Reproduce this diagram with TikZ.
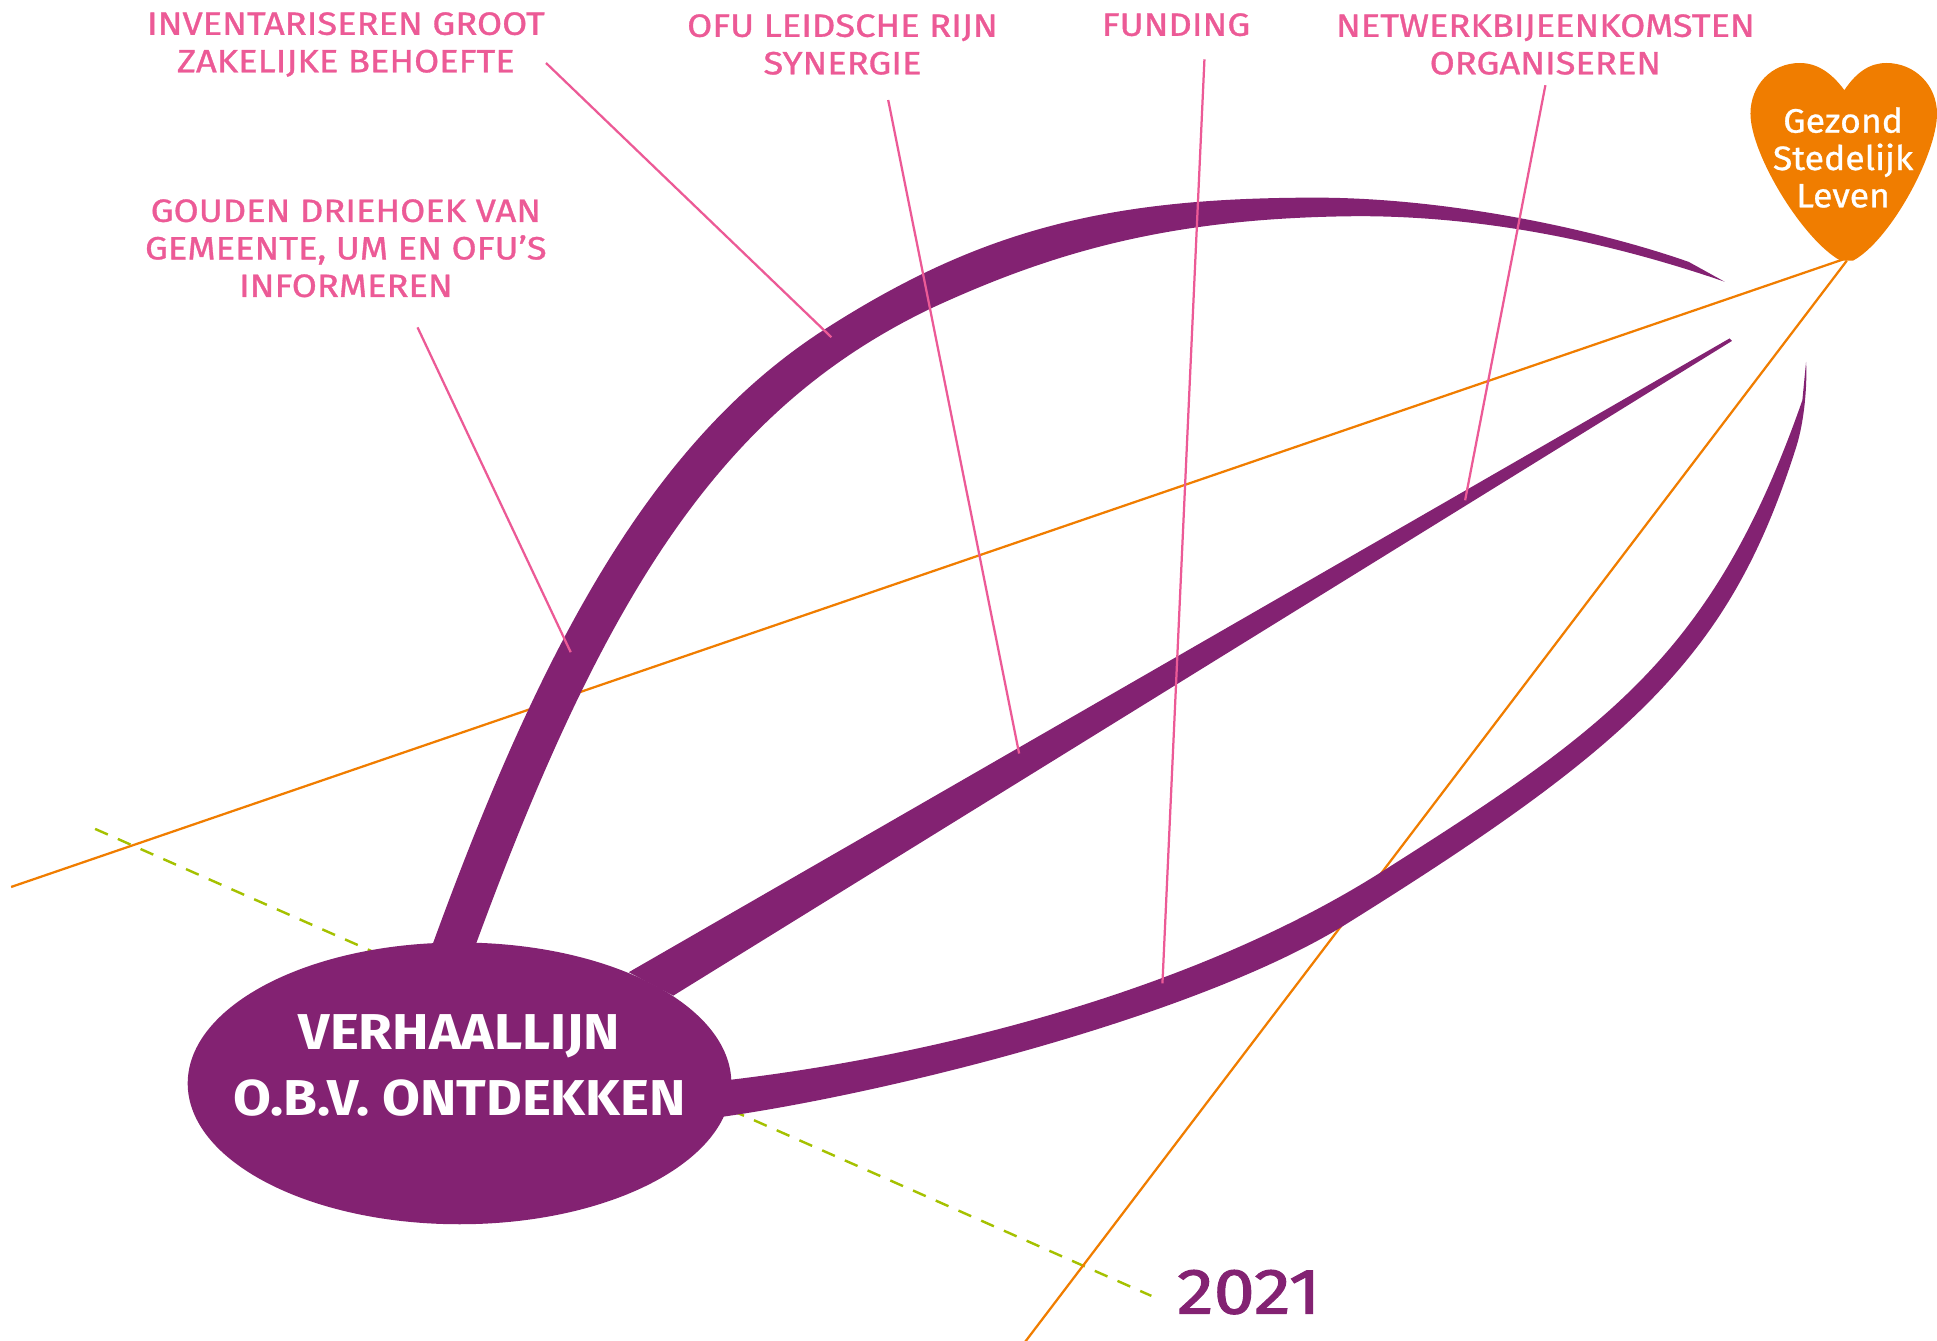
\documentclass[tikz,border=0pt]{standalone}
\usepackage{fontspec}
\setmainfont{Fira Sans}
\newfontfamily\rozefont[FakeStretch=1.13,FakeBold=1]{Fira Sans}
\newfontfamily\titelfont[FakeStretch=1.09]{Fira Sans}
\newfontfamily\hartfont[FakeStretch=1.05,FakeBold=0.8]{Fira Sans}
\newfontfamily\jaarfont[FakeStretch=1.15,FakeBold=1.6]{Fira Sans}
\usetikzlibrary{shapes.geometric}
\definecolor{verhaalpaars}{HTML}{832272}
\definecolor{verhaalroze}{HTML}{EC5A96}
\definecolor{verhaaloranje}{HTML}{F07D00}
\definecolor{verhaalgroen}{HTML}{A5C100}
\tikzset{
  roze/.style={text=verhaalroze,align=center,font=\rozefont\fontsize{18.5}{21.6}\selectfont},
  rozelijn/.style={draw=verhaalroze,line width=1.3pt},
  oranjelijn/.style={draw=verhaaloranje,line width=1.3pt},
  groenlijn/.style={draw=verhaalgroen,line width=1.4pt,dash pattern=on 8pt off 6.3pt},
}
\begin{document}
\begin{tikzpicture}[x=0.025cm,y=-0.025cm]
\useasboundingbox (0,0) rectangle (1568,1085.5);

\coordinate (groen1) at (77,671);
\coordinate (groen2) at (932,1049);
\coordinate (oranje1) at (9,718);
\coordinate (oranje2) at (830,1086);
\coordinate (hart1) at (1492,210);
\coordinate (hart2) at (1495,211);
\draw[groenlijn] (groen1) -- (groen2);
\draw[oranjelijn] (oranje1) -- (hart1);
\draw[oranjelijn] (oranje2) -- (hart2);

\begin{scope}[verhaalpaars]
\fill (350,765) .. controls (437,526) and (526,358) .. (667,267)
  .. controls (793,186) and (896,160) .. (1065,160)
  .. controls (1170,160) and (1290,185) .. (1367,212)
  -- (1396,228)
  .. controls (1300,195) and (1200,175) .. (1100,175)
  .. controls (950,176) and (855,203) .. (755,249)
  .. controls (585,330) and (490,479) .. (385,765) -- cycle;
\fill (509,787) -- (1400,274) -- (1402,276) -- (545,806) -- cycle;
\fill (592,874) .. controls (760,854) and (968,801) .. (1118,706)
  .. controls (1301,590) and (1387,530) .. (1459,324)
  -- (1462,293)
  .. controls (1463,310) and (1461,340) .. (1454,362)
  .. controls (1401,529) and (1326,601) .. (1085,751)
  .. controls (960,826) and (712,886) .. (585,904) -- cycle;
\node[ellipse,fill,minimum width=11cm,minimum height=5.7cm,inner sep=0pt] (ellips) at (372,877) {};
\end{scope}
\node[text=white,align=center,font=\titelfont\bfseries\fontsize{29}{37.6}\selectfont] (verhaallijn) at (372,862.5) {VERHAALLIJN\\O.B.V. ONTDEKKEN};

\fill[verhaaloranje] (1493,73) .. controls (1482,58) and (1470,51) .. (1457,51)
  .. controls (1434,51) and (1417,69) .. (1417,92)
  .. controls (1417,125) and (1460,195) .. (1490,211)
  -- (1500,211)
  .. controls (1530,195) and (1568,125) .. (1568,92)
  .. controls (1568,69) and (1550,51) .. (1527,51)
  .. controls (1514,51) and (1503,58) .. (1493,73) -- cycle;
\node[text=white,align=center,font=\hartfont\fontsize{19.5}{21.5}\selectfont] (hart) at (1492,127.5) {Gezond\\Stedelijk\\Leven};

\node[roze] (inventariseren) at (280,36) {INVENTARISEREN GROOT\\ZAKELIJKE BEHOEFTE};
\node[roze] (ofu) at (682,36) {OFU LEIDSCHE RIJN\\SYNERGIE};
\node[roze] (funding) at (952,20) {FUNDING};
\node[roze] (netwerk) at (1251,36) {NETWERKBIJEENKOMSTEN\\ORGANISEREN};
\node[roze] (gouden) at (280,201) {GOUDEN DRIEHOEK VAN\\GEMEENTE, UM EN OFU’S\\INFORMEREN};

\coordinate (inventariseren1) at (442,51);
\coordinate (inventariseren2) at (673,273);
\coordinate (ofu1) at (719,81);
\coordinate (ofu2) at (825,610);
\coordinate (funding1) at (975,48);
\coordinate (funding2) at (941,796);
\coordinate (netwerk1) at (1251,69);
\coordinate (netwerk2) at (1186,405);
\coordinate (gouden1) at (338,265);
\coordinate (gouden2) at (462,528);
\draw[rozelijn] (inventariseren1) -- (inventariseren2);
\draw[rozelijn] (ofu1) -- (ofu2);
\draw[rozelijn] (funding1) -- (funding2);
\draw[rozelijn] (netwerk1) -- (netwerk2);
\draw[rozelijn] (gouden1) -- (gouden2);

\node[text=verhaalpaars,font=\jaarfont\fontsize{37}{40}\selectfont] (jaar) at (1011,1046) {2021};
\end{tikzpicture}
\end{document}
